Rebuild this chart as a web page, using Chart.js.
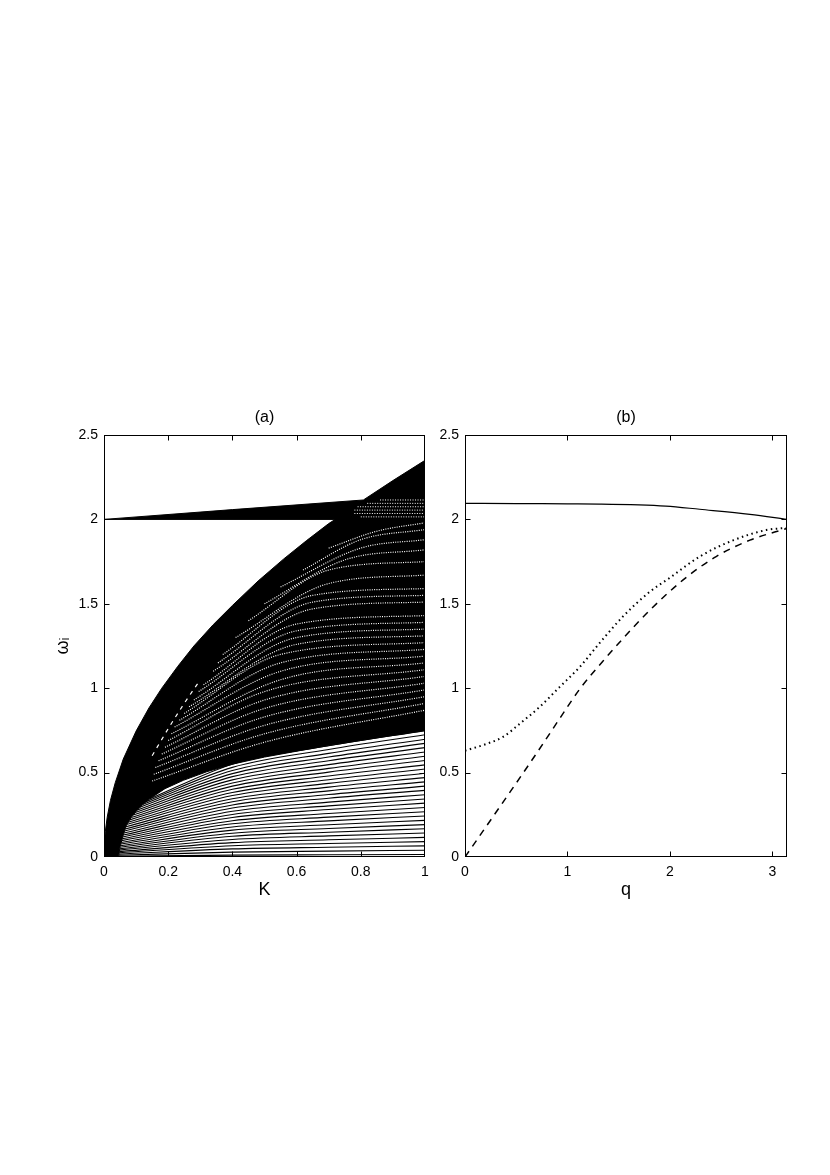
<!DOCTYPE html>
<html>
<head>
<meta charset="utf-8">
<script src="https://cdn.jsdelivr.net/npm/chart.js@4.4.1/dist/chart.umd.min.js"></script>
<style>
  body { margin: 0; background: #fff; width: 830px; height: 1175px; position: relative; overflow: hidden; }
  canvas { position: absolute; }
  #chartA { left: 0; top: 400px; }
  #chartB { left: 430px; top: 400px; }
</style>
</head>
<body>
<canvas id="chartA" width="440" height="510"></canvas>
<canvas id="chartB" width="400" height="510"></canvas>
<script>
// ---- panel (a): omega_i vs K ----
const kTicks = ["0", "0.2", "0.4", "0.6", "0.8", "1"];
const wTicks = ["0", "0.5", "1", "1.5", "2", "2.5"];

// outline of the solid black area (band at 2 and the main wedge)
const shapeK = [0, 0.4, 0.808, 0.9, 1,
  1, 0.9, 0.8, 0.7, 0.61, 0.5, 0.4, 0.32, 0.247, 0.19, 0.143, 0.12, 0.1, 0.085, 0.07, 0.06, 0.05, 0.045, 0,
  0.001, 0.004, 0.01, 0.02, 0.035, 0.06, 0.1, 0.14, 0.18, 0.23, 0.28, 0.34, 0.4, 0.48, 0.56, 0.63, 0.7, 0.72, 0];
const shapeW = [2.0, 2.058, 2.115, 2.23, 2.35,
  0.749, 0.72, 0.69, 0.66, 0.63, 0.592, 0.55, 0.505, 0.454, 0.405, 0.345, 0.31, 0.27, 0.235, 0.19, 0.13, 0.06, 0, 0,
  0.075, 0.15, 0.236, 0.334, 0.44, 0.58, 0.746, 0.883, 1.0, 1.13, 1.25, 1.376, 1.49, 1.635, 1.766, 1.873, 1.975, 2.0, 2.0];

// lower family of modes (separate lines under the black wedge)
const lowK = [0.4, 0.7, 1];
const lowStartK = [0.045, 0.046, 0.046, 0.047, 0.048, 0.048, 0.049, 0.05, 0.051, 0.052,
  0.054, 0.055, 0.057, 0.058, 0.06, 0.062, 0.064, 0.066, 0.068, 0.07,
  0.075, 0.08, 0.085, 0.091, 0.097, 0.104, 0.112, 0.12, 0.131, 0.143];
const lowStartW = [0.004, 0.010, 0.017, 0.025, 0.032, 0.041, 0.049, 0.058, 0.067, 0.077,
  0.086, 0.097, 0.108, 0.118, 0.130, 0.142, 0.154, 0.166, 0.179, 0.192,
  0.206, 0.220, 0.234, 0.249, 0.264, 0.279, 0.295, 0.311, 0.328, 0.345];
const lowAt04 = [0.011, 0.029, 0.048, 0.067, 0.085, 0.104, 0.123, 0.141, 0.159, 0.178,
  0.197, 0.215, 0.234, 0.252, 0.271, 0.290, 0.308, 0.327, 0.345, 0.364,
  0.382, 0.401, 0.420, 0.438, 0.457, 0.476, 0.494, 0.512, 0.531, 0.550];
const lowAt07 = [0.013, 0.035, 0.058, 0.080, 0.102, 0.125, 0.147, 0.169, 0.191, 0.214,
  0.236, 0.258, 0.281, 0.303, 0.325, 0.348, 0.370, 0.392, 0.414, 0.436,
  0.458, 0.480, 0.503, 0.525, 0.547, 0.570, 0.592, 0.614, 0.637, 0.659];
const lowAt1 = [0.015, 0.040, 0.066, 0.091, 0.116, 0.142, 0.167, 0.192, 0.217, 0.243,
  0.268, 0.293, 0.319, 0.344, 0.369, 0.395, 0.420, 0.445, 0.470, 0.496,
  0.521, 0.546, 0.572, 0.597, 0.622, 0.648, 0.673, 0.698, 0.724, 0.749];

// white streaks inside the black wedge (moire of the dense modes)
const texStartK = [0.15, 0.155, 0.16, 0.17, 0.18, 0.19, 0.2, 0.21, 0.22, 0.235, 0.25, 0.265,
  0.28, 0.295, 0.31, 0.34, 0.355, 0.37, 0.41, 0.45, 0.5, 0.55, 0.62, 0.7];
const texStartW = [0.45, 0.49, 0.53, 0.57, 0.61, 0.65, 0.69, 0.73, 0.77, 0.81, 0.85, 0.89,
  0.93, 0.98, 1.02, 1.1, 1.15, 1.2, 1.3, 1.4, 1.5, 1.6, 1.7, 1.83];
const texMidK = [0.5, 0.5, 0.5, 0.5, 0.5, 0.5, 0.5, 0.55, 0.55, 0.55, 0.55, 0.6,
  0.6, 0.6, 0.6, 0.65, 0.65, 0.65, 0.7, 0.7, 0.75, 0.8, 0.8, 0.85];
const texMidW = [0.68, 0.73, 0.78, 0.83, 0.88, 0.93, 0.98, 1.05, 1.1, 1.15, 1.2, 1.26,
  1.3, 1.34, 1.38, 1.47, 1.51, 1.55, 1.62, 1.7, 1.76, 1.83, 1.88, 1.93];
const texEndW = [0.87, 0.91, 0.95, 0.99, 1.03, 1.07, 1.11, 1.15, 1.19, 1.23, 1.27, 1.31,
  1.35, 1.39, 1.43, 1.51, 1.55, 1.59, 1.67, 1.75, 1.82, 1.88, 1.94, 1.98];
// the row of white dashes near the left edge of the streaks
const dashRowK = [0.15, 0.2, 0.25, 0.3];
const dashRowW = [0.6, 0.76, 0.91, 1.05];
const bandTexW = [2.015, 2.035, 2.055, 2.075, 2.095, 2.115];
const bandTexK = [0.8, 0.78, 0.78, 0.79, 0.82, 0.86];

// ---- panel (b): omega vs q ----
const qTicks = ["0", "1", "2", "3"];
const solidQ = [0, 0.5, 1.0, 1.31, 1.96, 2.29, 2.78, 3.1416];
const solidW = [2.095, 2.094, 2.092, 2.091, 2.079, 2.06, 2.03, 2.0];
const dotQ = [0, 0.21, 0.375, 0.535, 0.73, 0.925, 1.12, 1.31, 1.54, 1.8, 2.0, 2.29, 2.62, 2.94, 3.1416];
const dotW = [0.63, 0.67, 0.713, 0.79, 0.89, 1.008, 1.126, 1.265, 1.424, 1.57, 1.655, 1.78, 1.877, 1.937, 1.95];
const dashQ = [0, 0.2, 0.4, 0.57, 0.76, 0.94, 1.12, 1.345, 1.55, 1.8, 2.125, 2.45, 2.78, 3.1416];
const dashW = [0, 0.175, 0.35, 0.5, 0.67, 0.835, 0.995, 1.16, 1.3, 1.46, 1.64, 1.78, 1.877, 1.947];

Chart.defaults.font.family = "'Liberation Sans', Arial, sans-serif";
Chart.defaults.color = "#000";

function pts(xs, ys) {
  return xs.map((x, i) => ({ x: x, y: ys[i] }));
}

// box round the axes with inward ticks on all four sides
const frameTicks = {
  id: "frameTicks",
  afterDraw(chart) {
    const { ctx, chartArea: a, scales } = chart;
    const L = Math.round(a.left) + 0.5, R = Math.round(a.right) - 0.5;
    const T = Math.round(a.top) + 0.5, B = Math.round(a.bottom) - 0.5;
    ctx.save();
    ctx.strokeStyle = "#000";
    ctx.lineWidth = 1;
    ctx.strokeRect(L, T, R - L, B - T);
    ctx.beginPath();
    scales.x.ticks.forEach(t => {
      const px = Math.round(scales.x.getPixelForValue(t.value)) + 0.5;
      if (px <= L + 1 || px >= R - 1) return;
      ctx.moveTo(px, B); ctx.lineTo(px, B - 5);
      ctx.moveTo(px, T); ctx.lineTo(px, T + 5);
    });
    scales.y.ticks.forEach(t => {
      const py = Math.round(scales.y.getPixelForValue(t.value)) + 0.5;
      if (py <= T + 1 || py >= B - 1) return;
      ctx.moveTo(L, py); ctx.lineTo(L + 5, py);
      ctx.moveTo(R, py); ctx.lineTo(R - 5, py);
    });
    ctx.stroke();
    ctx.restore();
  }
};

function options(title, xTitle, yTitle, xMax, xStep, xLabels, yWidth, rightPad) {
  return {
    responsive: false,
    animation: false,
    events: [],
    layout: { padding: { left: 0, right: rightPad, top: 0, bottom: 0 } },
    plugins: {
      legend: { display: false },
      tooltip: { enabled: false },
      title: {
        display: true, text: title, fullSize: false,
        font: { size: 16, weight: "normal" },
        padding: { top: 8, bottom: 7.8 }
      }
    },
    elements: { point: { radius: 0 } },
    scales: {
      x: {
        type: "linear", min: 0, max: xMax,
        grid: { display: false, drawTicks: false }, border: { display: false },
        ticks: { stepSize: xStep, includeBounds: false, padding: 7, font: { size: 14 },
          maxRotation: 0, callback: (v, i) => xLabels[i] },
        title: { display: true, text: xTitle, font: { size: 18 }, padding: { top: 0, bottom: 9 } },
        afterFit: s => { s.height = 53; }
      },
      y: {
        type: "linear", min: 0, max: 2.5,
        grid: { display: false, drawTicks: false }, border: { display: false },
        ticks: { stepSize: 0.5, padding: 6, font: { size: 14 }, callback: (v, i) => wTicks[i] },
        title: { display: yTitle !== "", text: yTitle, font: { size: 18 }, padding: { top: 52, bottom: 0 } },
        afterFit: s => { s.width = yWidth; }
      }
    }
  };
}

// panel (a) datasets
const dsA = [];
dsA.push({
  data: pts(shapeK, shapeW), borderColor: "#000", backgroundColor: "#000",
  borderWidth: 1, fill: "shape", tension: 0, order: 10
});
texEndW.forEach((w, i) => {
  dsA.push({
    data: [{ x: texStartK[i], y: texStartW[i] }, { x: texMidK[i], y: texMidW[i] }, { x: 1, y: w }],
    borderColor: "#fff", borderWidth: 1.2, borderDash: [1, 1.3], fill: false,
    cubicInterpolationMode: "monotone", order: 5
  });
});
dsA.push({
  data: pts(dashRowK, dashRowW), borderColor: "#fff", borderWidth: 1.2, borderDash: [4, 5],
  fill: false, cubicInterpolationMode: "monotone", order: 5
});
bandTexW.forEach((w, i) => {
  dsA.push({
    data: [{ x: bandTexK[i], y: w }, { x: 1, y: w }],
    borderColor: "#fff", borderWidth: 1, borderDash: [1, 1.5], fill: false, order: 5
  });
});
lowAt1.forEach((w, i) => {
  dsA.push({
    data: [{ x: lowStartK[i], y: lowStartW[i] }, { x: lowK[0], y: lowAt04[i] },
           { x: lowK[1], y: lowAt07[i] }, { x: lowK[2], y: w }],
    borderColor: "#000", borderWidth: 1.1, fill: false,
    cubicInterpolationMode: "monotone", order: 1
  });
});

new Chart(document.getElementById("chartA"), {
  type: "line",
  data: { datasets: dsA },
  options: options("(a)", "K", "\u03c9\u1d62", 1, 0.2, kTicks, 104, 15),
  plugins: [frameTicks]
});

// panel (b) datasets
new Chart(document.getElementById("chartB"), {
  type: "line",
  data: {
    datasets: [
      { data: pts(solidQ, solidW), borderColor: "#000", borderWidth: 1.2, fill: false, cubicInterpolationMode: "monotone" },
      { data: pts(dotQ, dotW), borderColor: "#000", borderWidth: 2, borderDash: [1.5, 3.5], fill: false, cubicInterpolationMode: "monotone" },
      { data: pts(dashQ, dashW), borderColor: "#000", borderWidth: 1.5, borderDash: [7, 6], fill: false, cubicInterpolationMode: "monotone" }
    ]
  },
  options: options("(b)", "q", "", 3.1416, 1, qTicks, 35, 43),
  plugins: [frameTicks]
});
</script>
</body>
</html>
